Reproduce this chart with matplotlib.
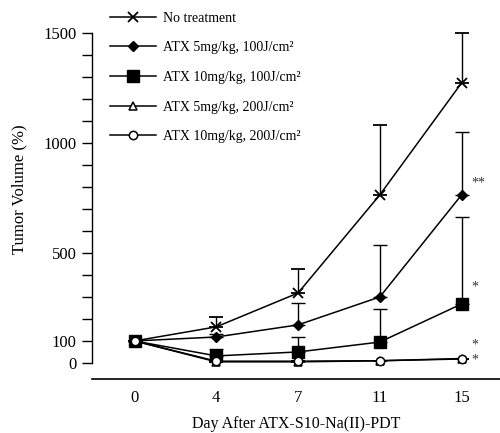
import matplotlib
matplotlib.use("Agg")
import matplotlib.pyplot as plt
from matplotlib.lines import Line2D
import numpy as np

plt.rcParams['font.family'] = ['Liberation Serif', 'DejaVu Serif']

days = ["0", "4", "7", "11", "15"]
labels = ["No treatment",
          "ATX 5mg/kg, 100J/cm²",
          "ATX 10mg/kg, 100J/cm²",
          "ATX 5mg/kg, 200J/cm²",
          "ATX 10mg/kg, 200J/cm²"]
no_treat = [100, 164, 318, 764, 1273]
no_treat_err = [0, 45, 109, 318, 227]
atx5_100 = [100, 118, 173, 300, 764]
atx5_100_err = [0, 15, 100, 236, 286]
atx10_100 = [100, 32, 50, 95, 268]
atx10_100_err = [0, 32, 68, 150, 396]
atx5_200 = [100, 5, 5, 10, 20]
atx5_200_err = [0, 0, 0, 0, 0]
atx10_200 = [100, 8, 8, 10, 18]
atx10_200_err = [0, 0, 0, 0, 0]
signif = ["**", "*", "*", "*"]
signif_y = [818, 345, 82, 14]

series = [
    (no_treat, no_treat_err, dict(marker='x', markersize=7, mfc='black', mew=1.3)),
    (atx5_100, atx5_100_err, dict(marker='D', markersize=5, mfc='black')),
    (atx10_100, atx10_100_err, dict(marker='s', markersize=8, mfc='black')),
    (atx5_200, atx5_200_err, dict(marker='^', markersize=6, mfc='white', mew=1.1)),
    (atx10_200, atx10_200_err, dict(marker='o', markersize=6, mfc='white', mew=1.1)),
]

fig = plt.figure(figsize=(5.0, 4.33), dpi=100)
ax = fig.add_axes([0.184, 0.1247, 0.816, 0.8753])
x = np.arange(len(days))
handles = []
for (vals, err, st), lab in zip(series, labels):
    yerr = [np.zeros(len(err)), np.array(err)]
    ax.errorbar(x, vals, yerr=yerr, color='black', lw=1.1, capsize=5,
                elinewidth=1.0, capthick=1.0, mec='black', **st)
    handles.append(Line2D([], [], color='black', lw=1.1, mec='black', **st))

for s, yy in zip(signif, signif_y):
    ax.text(4.12, yy, s, fontsize=10, ha='left', va='center', color='#333333')

ax.set_xlim(-0.52, 4.47)
ax.set_ylim(-73, 1650)
ax.set_xticks(x)
ax.set_xticklabels(days, fontsize=12)
ax.tick_params(axis='x', length=0, pad=8)
ax.set_yticks(np.arange(0, 1501, 100))
ax.set_yticklabels(["0", "100", "", "", "", "500", "", "", "", "", "1000",
                    "", "", "", "", "1500"], fontsize=12)
ax.tick_params(axis='y', length=7, width=1.0, direction='out', pad=4)
ax.spines['top'].set_visible(False)
ax.spines['right'].set_visible(False)
ax.spines['left'].set_bounds(0, 1500)
ax.spines['left'].set_linewidth(1.0)
ax.spines['bottom'].set_linewidth(1.2)

ax.set_ylabel("Tumor Volume (%)", fontsize=12)
ax.yaxis.set_label_coords(-0.159, 0.5)
ax.set_xlabel("Day After ATX-S10-Na(II)-PDT", fontsize=11.5)
ax.xaxis.set_label_coords(0.5, -0.097)

leg = ax.legend(handles=handles, labels=labels, loc='upper left',
                bbox_to_anchor=(0.03, 0.984), frameon=False, fontsize=10,
                handlelength=3.3, labelspacing=1.2, handletextpad=0.5,
                borderaxespad=0.0)

fig.savefig("out.png", dpi=100)
